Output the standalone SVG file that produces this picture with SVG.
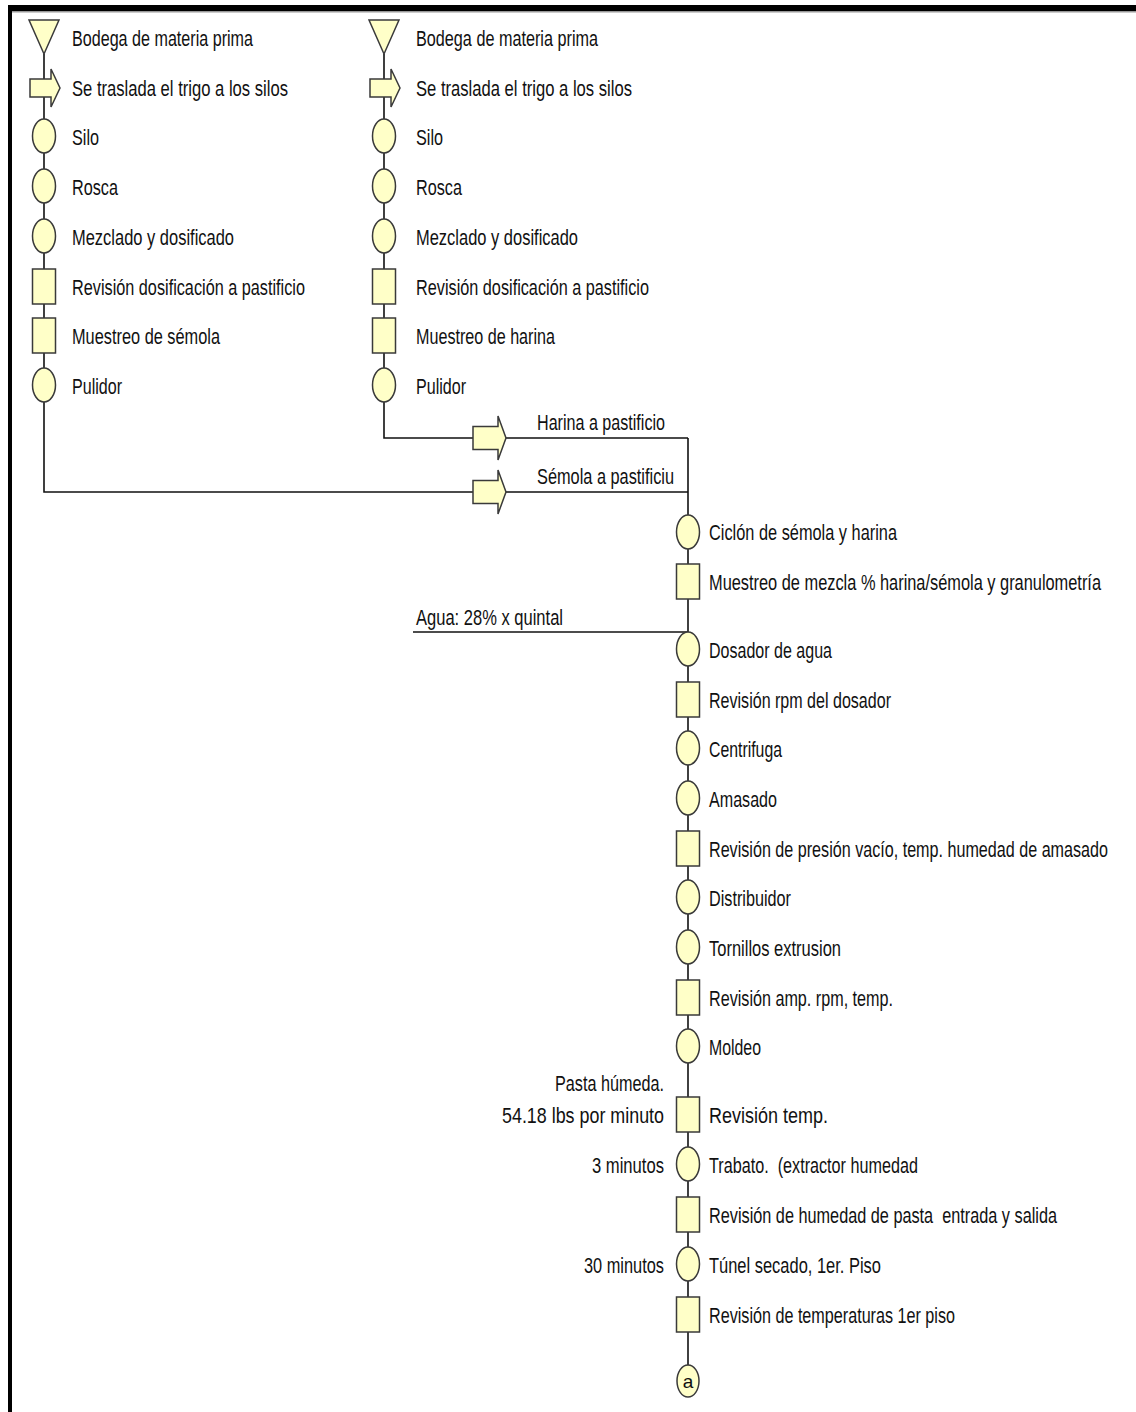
<svg xmlns="http://www.w3.org/2000/svg" xmlns:xlink="http://www.w3.org/1999/xlink" width="1136" height="1412" viewBox="0 0 1136 1412">
<style>
.sh{fill:#FFFFC8;stroke:#3a3a3a;stroke-width:1.5}
.ln{fill:none;stroke:#111;stroke-width:1.6}
text{font-family:"Liberation Sans Narrow","Liberation Sans",Arial,sans-serif;font-size:22px;fill:#111}
.r{text-anchor:end}
.c{text-anchor:middle}
</style>
<defs>
<path id="varr" class="sh" d="M-14,-9 H7 V-19 L16,0 L7,19 V9 H-14 Z"/>
<path id="harr" class="sh" d="M-16,-11.5 H9 V-22 L17,0 L9,22 V11.5 H-16 Z"/>
<ellipse id="op" class="sh" cx="0" cy="-1" rx="11.5" ry="17"/>
<rect id="insp" class="sh" x="-11.5" y="-18" width="23" height="35"/>
<path id="store" class="sh" d="M-15,-18 H15 L0,16 Z"/>
</defs>
<rect x="0" y="0" width="1136" height="1412" fill="#fff"/>
<rect x="8" y="5" width="1128" height="6" fill="#000"/>
<rect x="8" y="11" width="1128" height="1.5" fill="#999"/>
<rect x="8" y="5" width="4" height="1407" fill="#000"/>

<g id="connectors">
<path class="ln" d="M44,54 V492 H688"/>
<path class="ln" d="M384,54 V438 H688"/>
<path class="ln" d="M688,438 V1366"/>
<path class="ln" d="M413,632 H688"/>
</g>

<g id="left-col">
<g id="l0"><use xlink:href="#store" x="44" y="38"/><text x="72" y="46" textLength="181" lengthAdjust="spacingAndGlyphs">Bodega de materia prima</text></g>
<g id="l1"><use xlink:href="#varr" x="44" y="88"/><text x="72" y="96" textLength="216" lengthAdjust="spacingAndGlyphs">Se traslada el trigo a los silos</text></g>
<g id="l2"><use xlink:href="#op" x="44" y="137"/><text x="72" y="145" textLength="27" lengthAdjust="spacingAndGlyphs">Silo</text></g>
<g id="l3"><use xlink:href="#op" x="44" y="187"/><text x="72" y="195" textLength="46" lengthAdjust="spacingAndGlyphs">Rosca</text></g>
<g id="l4"><use xlink:href="#op" x="44" y="237"/><text x="72" y="245" textLength="162" lengthAdjust="spacingAndGlyphs">Mezclado y dosificado</text></g>
<g id="l5"><use xlink:href="#insp" x="44" y="287"/><text x="72" y="295" textLength="233" lengthAdjust="spacingAndGlyphs">Revisión dosificación a pastificio</text></g>
<g id="l6"><use xlink:href="#insp" x="44" y="336"/><text x="72" y="344" textLength="148" lengthAdjust="spacingAndGlyphs">Muestreo de sémola</text></g>
<g id="l7"><use xlink:href="#op" x="44" y="386"/><text x="72" y="394" textLength="50" lengthAdjust="spacingAndGlyphs">Pulidor</text></g>
</g>

<g id="mid-col">
<g id="m0"><use xlink:href="#store" x="384" y="38"/><text x="416" y="46" textLength="182" lengthAdjust="spacingAndGlyphs">Bodega de materia prima</text></g>
<g id="m1"><use xlink:href="#varr" x="384" y="88"/><text x="416" y="96" textLength="216" lengthAdjust="spacingAndGlyphs">Se traslada el trigo a los silos</text></g>
<g id="m2"><use xlink:href="#op" x="384" y="137"/><text x="416" y="145" textLength="27" lengthAdjust="spacingAndGlyphs">Silo</text></g>
<g id="m3"><use xlink:href="#op" x="384" y="187"/><text x="416" y="195" textLength="46" lengthAdjust="spacingAndGlyphs">Rosca</text></g>
<g id="m4"><use xlink:href="#op" x="384" y="237"/><text x="416" y="245" textLength="162" lengthAdjust="spacingAndGlyphs">Mezclado y dosificado</text></g>
<g id="m5"><use xlink:href="#insp" x="384" y="287"/><text x="416" y="295" textLength="233" lengthAdjust="spacingAndGlyphs">Revisión dosificación a pastificio</text></g>
<g id="m6"><use xlink:href="#insp" x="384" y="336"/><text x="416" y="344" textLength="139" lengthAdjust="spacingAndGlyphs">Muestreo de harina</text></g>
<g id="m7"><use xlink:href="#op" x="384" y="386"/><text x="416" y="394" textLength="50" lengthAdjust="spacingAndGlyphs">Pulidor</text></g>
</g>

<g id="harina"><use xlink:href="#harr" x="489" y="438"/><text x="537" y="430" textLength="128" lengthAdjust="spacingAndGlyphs">Harina a pastificio</text></g>
<g id="semola"><use xlink:href="#harr" x="489" y="492"/><text x="537" y="484" textLength="137" lengthAdjust="spacingAndGlyphs">Sémola a pastificiu</text></g>
<g id="agua"><text x="416" y="625" textLength="147" lengthAdjust="spacingAndGlyphs">Agua: 28% x quintal</text></g>

<g id="right-col">
<g id="r0"><use xlink:href="#op" x="688" y="533"/><text x="709" y="540" textLength="188" lengthAdjust="spacingAndGlyphs">Ciclón de sémola y harina</text></g>
<g id="r1"><use xlink:href="#insp" x="688" y="582"/><text transform="translate(709,590) scale(0.8,1)" x="0" y="0" textLength="490" lengthAdjust="spacingAndGlyphs">Muestreo de mezcla % harina/sémola y granulometría</text></g>
<g id="r2"><use xlink:href="#op" x="688" y="650"/><text x="709" y="658" textLength="123" lengthAdjust="spacingAndGlyphs">Dosador de agua</text></g>
<g id="r3"><use xlink:href="#insp" x="688" y="700"/><text x="709" y="708" textLength="182" lengthAdjust="spacingAndGlyphs">Revisión rpm del dosador</text></g>
<g id="r4"><use xlink:href="#op" x="688" y="749"/><text x="709" y="757" textLength="73" lengthAdjust="spacingAndGlyphs">Centrifuga</text></g>
<g id="r5"><use xlink:href="#op" x="688" y="799"/><text x="709" y="807" textLength="68" lengthAdjust="spacingAndGlyphs">Amasado</text></g>
<g id="r6"><use xlink:href="#insp" x="688" y="849"/><text transform="translate(709,857) scale(0.7,1)" x="0" y="0" textLength="570" lengthAdjust="spacingAndGlyphs">Revisión de presión vacío, temp. humedad de amasado</text></g>
<g id="r7"><use xlink:href="#op" x="688" y="898"/><text x="709" y="906" textLength="82" lengthAdjust="spacingAndGlyphs">Distribuidor</text></g>
<g id="r8"><use xlink:href="#op" x="688" y="948"/><text x="709" y="956" textLength="132" lengthAdjust="spacingAndGlyphs">Tornillos extrusion</text></g>
<g id="r9"><use xlink:href="#insp" x="688" y="998"/><text x="709" y="1006" textLength="184" lengthAdjust="spacingAndGlyphs">Revisión amp. rpm, temp.</text></g>
<g id="r10"><use xlink:href="#op" x="688" y="1047"/><text x="709" y="1055" textLength="52" lengthAdjust="spacingAndGlyphs">Moldeo</text></g>
<g id="r11"><use xlink:href="#insp" x="688" y="1115"/><text x="709" y="1123" textLength="119" lengthAdjust="spacingAndGlyphs">Revisión temp.</text>
<text class="r" x="664" y="1091" textLength="109" lengthAdjust="spacingAndGlyphs">Pasta húmeda.</text>
<text class="r" x="664" y="1123" textLength="162" lengthAdjust="spacingAndGlyphs">54.18 lbs por minuto</text></g>
<g id="r12"><use xlink:href="#op" x="688" y="1165"/><text x="709" y="1173" textLength="209" lengthAdjust="spacingAndGlyphs" xml:space="preserve">Trabato.  (extractor humedad</text>
<text class="r" x="664" y="1173" textLength="72" lengthAdjust="spacingAndGlyphs">3 minutos</text></g>
<g id="r13"><use xlink:href="#insp" x="688" y="1215"/><text transform="translate(709,1223) scale(0.8,1)" x="0" y="0" textLength="435" lengthAdjust="spacingAndGlyphs" xml:space="preserve">Revisión de humedad de pasta  entrada y salida</text></g>
<g id="r14"><use xlink:href="#op" x="688" y="1265"/><text x="709" y="1273" textLength="172" lengthAdjust="spacingAndGlyphs">Túnel secado, 1er. Piso</text>
<text class="r" x="664" y="1273" textLength="80" lengthAdjust="spacingAndGlyphs">30 minutos</text></g>
<g id="r15"><use xlink:href="#insp" x="688" y="1315"/><text x="709" y="1323" textLength="246" lengthAdjust="spacingAndGlyphs">Revisión de temperaturas 1er piso</text></g>
<g id="conn-a"><ellipse class="sh" cx="688" cy="1381" rx="11" ry="16"/><text class="c" x="688" y="1388" style="font-size:19px">a</text></g>
</g>
</svg>
